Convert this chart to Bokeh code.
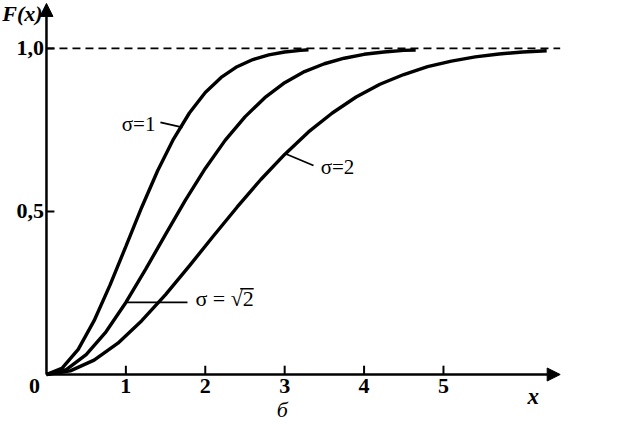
from bokeh.plotting import figure
from bokeh.models import Arrow, NormalHead, Range1d, ColumnDataSource
from bokeh.core.properties import value
from bokeh.embed import file_html
from bokeh.resources import INLINE

# --- data (F(x) curves for three sigma values) ---
x_s1 = [0.0, 0.2, 0.4, 0.6, 0.8, 1.0, 1.2, 1.4, 1.6, 1.8, 2.0, 2.2, 2.4, 2.6, 2.8, 3.0, 3.2, 3.3]
F_s1 = [0.0, 0.020, 0.077, 0.165, 0.274, 0.393, 0.513, 0.625, 0.722, 0.802, 0.865, 0.911,
        0.944, 0.966, 0.980, 0.989, 0.994, 0.996]

x_s2r = [0.0, 0.25, 0.5, 0.75, 1.0, 1.25, 1.5, 1.75, 2.0, 2.25, 2.5, 2.75, 3.0, 3.25, 3.5,
         3.75, 4.0, 4.25, 4.5, 4.65]
F_s2r = [0.0, 0.015, 0.061, 0.131, 0.221, 0.323, 0.430, 0.535, 0.632, 0.718, 0.790, 0.849,
         0.895, 0.929, 0.953, 0.970, 0.982, 0.989, 0.994, 0.995]

x_s2 = [0.0, 0.3, 0.6, 0.9, 1.2, 1.5, 1.8, 2.1, 2.4, 2.7, 3.0, 3.3, 3.6, 3.9, 4.2, 4.5, 4.8,
        5.1, 5.4, 5.7, 6.0, 6.3]
F_s2 = [0.0, 0.011, 0.044, 0.096, 0.165, 0.245, 0.333, 0.424, 0.513, 0.598, 0.675, 0.744,
        0.802, 0.851, 0.890, 0.920, 0.944, 0.961, 0.974, 0.983, 0.989, 0.993]

x_ticks = [1, 2, 3, 4, 5]
x_tick_labels = ["1", "2", "3", "4", "5"]
y_ticks = [0.5, 1.0]
y_tick_labels = ["0,5", "1,0"]
asymptote = 1.0

SERIF = value("Liberation Serif")
X_END = 6.47     # end of x-axis arrow / asymptote
Y_END = 1.138    # end of y-axis arrow

p = figure(width=629, height=426, output_backend="svg", toolbar_location=None,
           x_range=Range1d(-0.579, 7.343), y_range=Range1d(-0.1595, 1.147),
           x_axis_location=None, y_axis_location=None,
           min_border=0)
p.outline_line_color = None
p.xgrid.visible = False
p.ygrid.visible = False
p.background_fill_color = "white"
p.border_fill_color = "white"

# dashed asymptote
p.line(x=[0, X_END], y=[asymptote, asymptote], line_color="black", line_width=1.8,
       line_dash="8 5")

# curves
for xs, ys in ((x_s1, F_s1), (x_s2r, F_s2r), (x_s2, F_s2)):
    p.line(x=xs, y=ys, line_color="black", line_width=3.4)

# axis arrows
p.add_layout(Arrow(end=NormalHead(size=13, fill_color="black", line_color="black"),
                   x_start=0, y_start=0, x_end=X_END, y_end=0,
                   line_color="black", line_width=2.5))
p.add_layout(Arrow(end=NormalHead(size=13, fill_color="black", line_color="black"),
                   x_start=0, y_start=0, x_end=0, y_end=Y_END,
                   line_color="black", line_width=2.5))

# ticks (pointing inward) and tick labels, placed through the data scales
xt = ColumnDataSource(dict(x=x_ticks, lab=x_tick_labels,
                           y0=[0] * len(x_ticks), y1=[0.027] * len(x_ticks),
                           ly=[-0.035] * len(x_ticks)))
p.segment(x0="x", y0="y0", x1="x", y1="y1", source=xt, line_color="black", line_width=2)
p.text(x="x", y="ly", text="lab", source=xt, text_font=SERIF, text_font_size="22px",
       text_font_style="bold", text_align="center", text_baseline="middle",
       text_color="black")

yt = ColumnDataSource(dict(y=y_ticks, lab=y_tick_labels,
                           x0=[0] * len(y_ticks), x1=[0.1] * len(y_ticks),
                           lx=[-0.03] * len(y_ticks)))
p.segment(x0="x0", y0="y", x1="x1", y1="y", source=yt, line_color="black", line_width=2)
p.text(x="lx", y="y", text="lab", source=yt, text_font=SERIF, text_font_size="22px",
       text_font_style="bold", text_align="right", text_baseline="middle",
       text_color="black")

# leader lines
p.line(x=[1.435, 1.713], y=[0.773, 0.758], line_color="black", line_width=1.8)
p.line(x=[3.01, 3.363], y=[0.677, 0.641], line_color="black", line_width=1.8)
p.line(x=[0.995, 1.776], y=[0.221, 0.221], line_color="black", line_width=1.8)

def lab(x, y, text, size="21px", style="normal", align="center"):
    p.text(x=[x], y=[y], text=[text], text_font=SERIF, text_font_size=size,
           text_font_style=style, text_align=align, text_baseline="middle",
           text_color="black")

lab(1.16, 0.767, "σ=1")
lab(3.665, 0.635, "σ=2")
lab(1.877, 0.233, "σ = √2", size="22px", align="left")
# vinculum of the square root
p.line(x=[2.44, 2.61], y=[0.263, 0.263], line_color="black", line_width=1.4)

lab(-0.151, -0.035, "0", size="22px", style="bold")
lab(6.13, -0.066, "x", size="23px", style="bold italic")
lab(2.97, -0.108, "б", size="22px", style="italic")
lab(-0.302, 1.107, "F(x)", size="22px", style="bold italic")

open("out.html", "w").write(file_html(p, INLINE))
